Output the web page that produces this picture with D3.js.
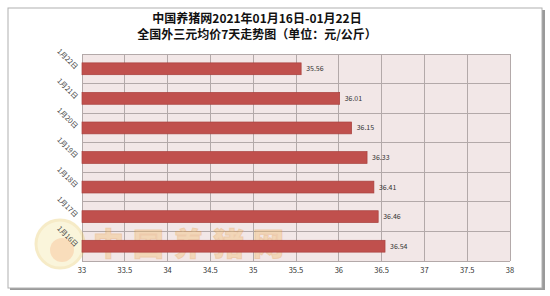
<!DOCTYPE html>
<html><head><meta charset="utf-8">
<script src="https://cdn.jsdelivr.net/npm/d3@7"></script>
<style>body{margin:0;background:#fff}svg{display:block}</style>
</head><body>
<svg id="c" width="550" height="296"></svg>
<script>
const categories = ["1月22日","1月21日","1月20日","1月19日","1月18日","1月17日","1月16日"];
const values = [35.56, 36.01, 36.15, 36.33, 36.41, 36.46, 36.54];
const xTicks = [33, 33.5, 34, 34.5, 35, 35.5, 36, 36.5, 37, 37.5, 38];
const titleLines = ["中国养猪网2021年01月16日-01月22日", "全国外三元均价7天走势图（单位：元/公斤）"];

const svg = d3.select("#c");
const font = "'Noto Sans CJK SC','Noto Sans',sans-serif";
const m = {l:82, t:54, r:510, b:261};

// outer frame with shadow
svg.append("rect").attr("x",10).attr("y",10).attr("width",535).attr("height",280).attr("fill","#9a9a9a");
svg.append("rect").attr("x",8).attr("y",8).attr("width",534).attr("height",280)
  .attr("fill","#fff").attr("stroke","#b0b0b0").attr("stroke-width",1);

const x = d3.scaleLinear().domain([33,38]).range([m.l, m.r]);
const y = d3.scaleBand().domain(categories).range([m.t, m.b]).paddingInner(0).paddingOuter(0);

// plot bg
svg.append("rect").attr("x",m.l).attr("y",m.t).attr("width",m.r-m.l).attr("height",m.b-m.t).attr("fill","#f2e7e7");

// vertical grid
svg.append("g").selectAll("line").data(xTicks).join("line")
  .attr("x1",d=>x(d)).attr("x2",d=>x(d)).attr("y1",m.t).attr("y2",m.b)
  .attr("stroke","#b3a9a9").attr("stroke-width",1).attr("shape-rendering","crispEdges");
// horizontal grid
const hb = categories.map(c=>y(c)).concat([m.b]);
svg.append("g").selectAll("line").data(hb).join("line")
  .attr("x1",m.l).attr("x2",m.r).attr("y1",d=>d).attr("y2",d=>d)
  .attr("stroke","#b3a9a9").attr("stroke-width",1).attr("shape-rendering","crispEdges");

// watermark
const wm = svg.append("g").attr("opacity",0.35);
wm.append("circle").attr("cx",60).attr("cy",244).attr("r",24).attr("fill","#f3e39a").attr("stroke","#e8c860").attr("stroke-width",3);
wm.append("circle").attr("cx",62).attr("cy",250).attr("r",12).attr("fill","#f0a040");
wm.append("text").attr("x",93).attr("y",255).attr("font-family",font).attr("font-weight",900)
  .attr("font-size",31).attr("fill","#f2b860").attr("stroke","#e89a40").attr("stroke-width",1).attr("letter-spacing",9)
  .text("中国养猪网");

// bars
svg.append("g").selectAll("rect").data(values).join("rect")
  .attr("x",x(33)).attr("y",(d,i)=>y(categories[i])+y.bandwidth()*0.3)
  .attr("width",d=>x(d)-x(33)).attr("height",y.bandwidth()*0.4)
  .attr("fill","#c0504d").attr("stroke","#a8403d").attr("stroke-width",0.7);

// value labels
svg.append("g").selectAll("text").data(values).join("text")
  .attr("x",d=>x(d)+5).attr("y",(d,i)=>y(categories[i])+y.bandwidth()/2+2.5)
  .attr("font-family",font).attr("font-size",7).attr("fill","#333")
  .text(d=>d.toFixed(2));

// x axis labels
svg.append("g").selectAll("text").data(xTicks).join("text")
  .attr("x",d=>x(d)).attr("y",273).attr("text-anchor","middle")
  .attr("font-family",font).attr("font-size",7.5).attr("fill","#333")
  .text(d=>d);

// y labels rotated
svg.append("g").selectAll("text").data(categories).join("text")
  .attr("transform",c=>`translate(75,${y(c)+y.bandwidth()/2+1}) rotate(45)`)
  .attr("text-anchor","end")
  .attr("font-family",font).attr("font-size",7).attr("fill","#444")
  .text(c=>c);

// titles
svg.append("g").selectAll("text").data(titleLines).join("text")
  .attr("x",257).attr("y",(d,i)=>23+i*16).attr("text-anchor","middle")
  .attr("font-family",font).attr("font-weight","bold").attr("font-size",12).attr("fill","#111")
  .text(d=>d);
</script>
</body></html>
